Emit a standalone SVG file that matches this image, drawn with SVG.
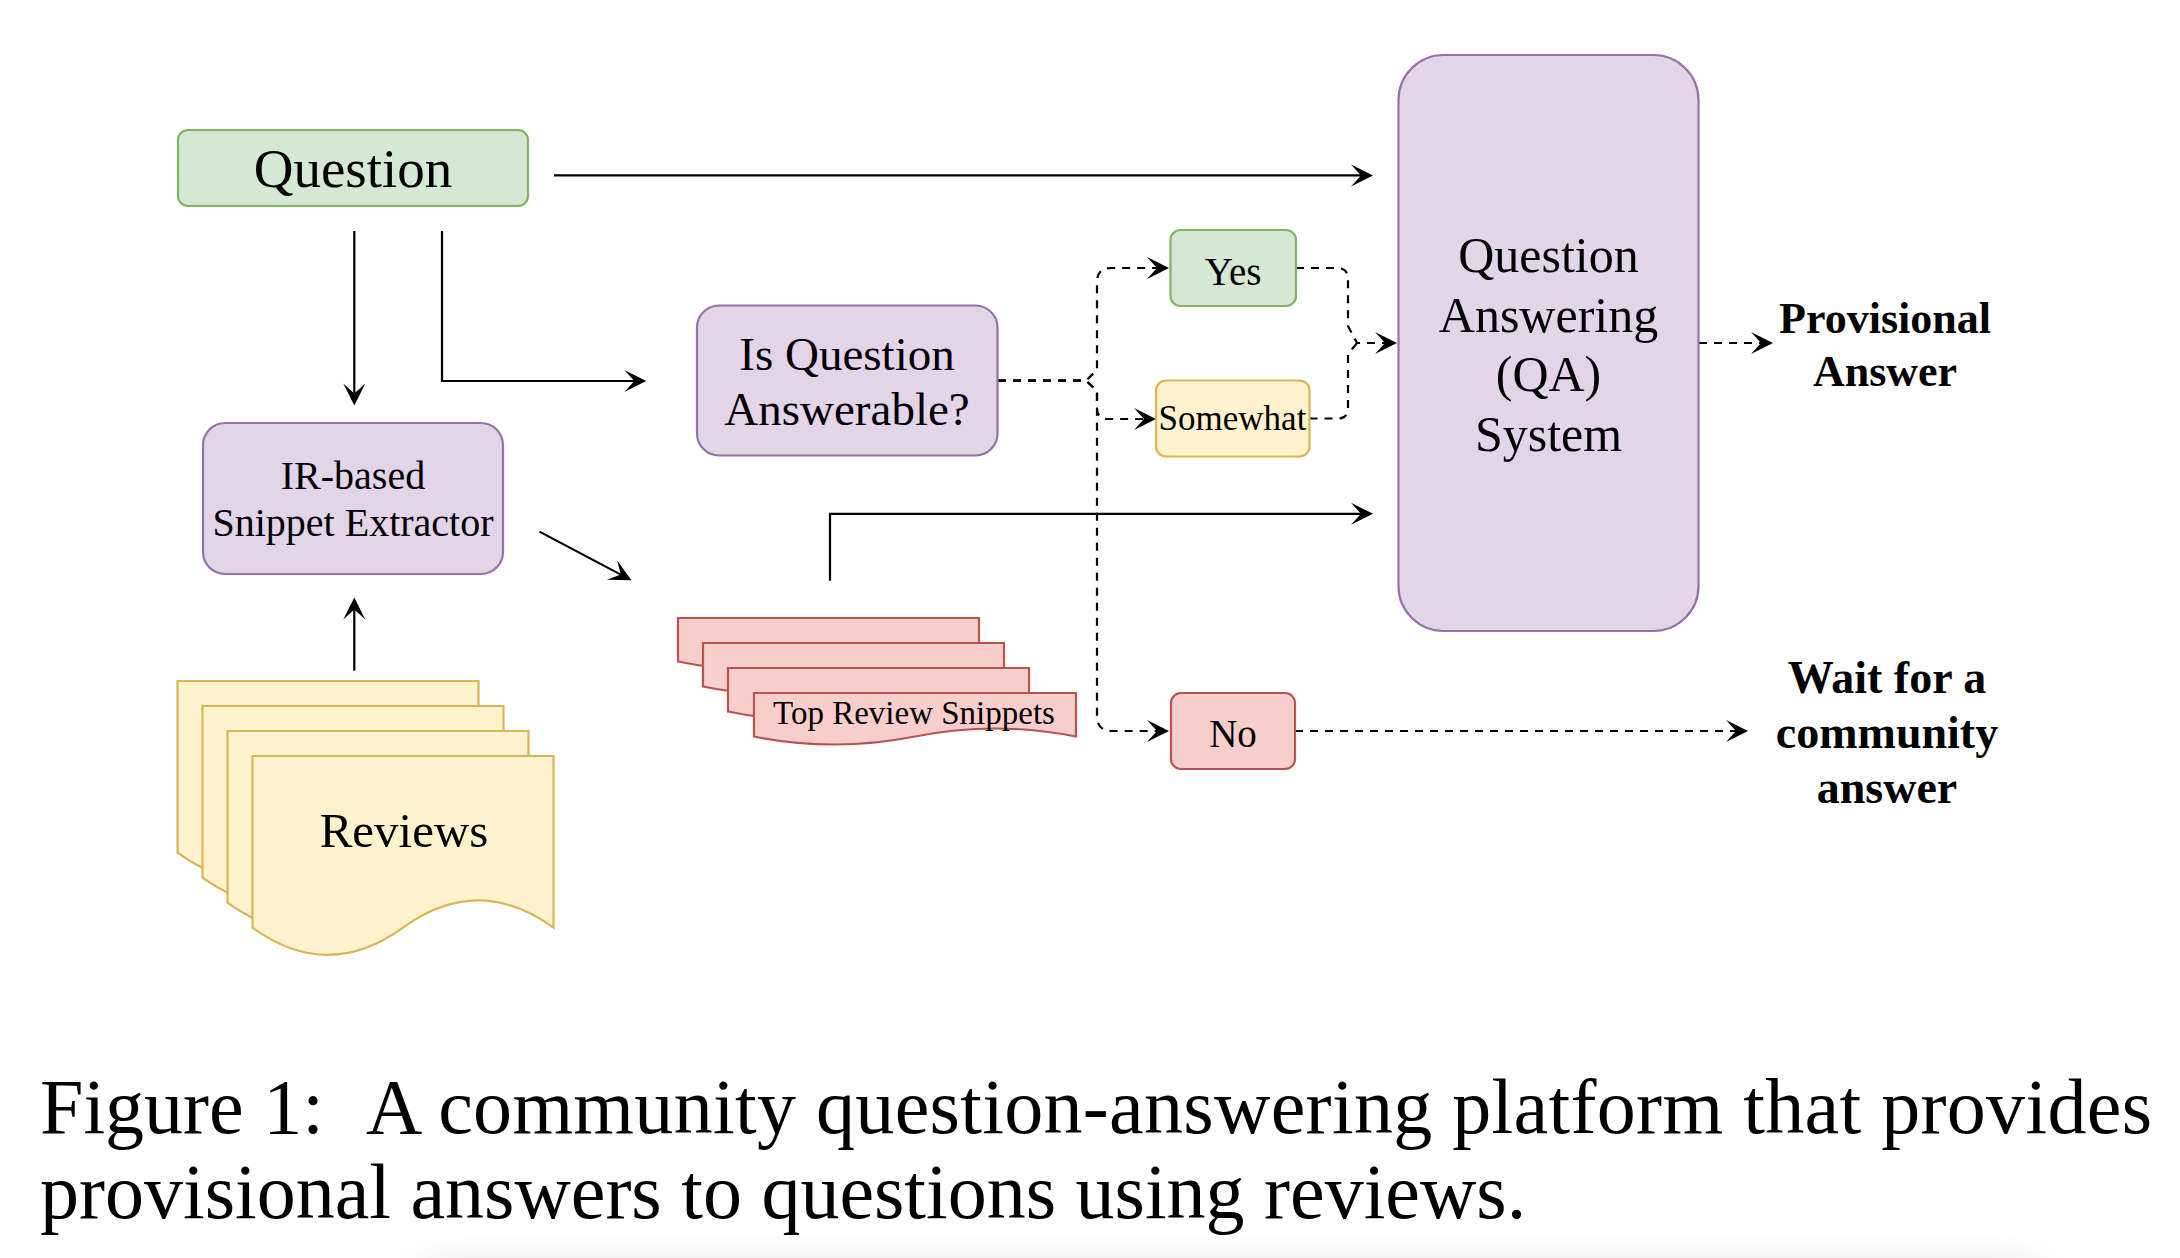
<svg xmlns="http://www.w3.org/2000/svg" width="2180" height="1258" viewBox="0 0 2180 1258">
<style>
.t{font-family:"Liberation Serif","Times New Roman",serif;fill:#000;text-anchor:middle}
.b{font-weight:bold}
.s{text-anchor:start}
.green{fill:#d5e8d4;stroke:#82b366;stroke-width:2.2}
.purple{fill:#e1d5e7;stroke:#9673a6;stroke-width:2.2}
.yellow{fill:#fff2cc;stroke:#d6b656;stroke-width:2.2}
.red{fill:#f8cecc;stroke:#b85450;stroke-width:2.2}
.ln{fill:none;stroke:#000;stroke-width:2.2}
.ds{fill:none;stroke:#000;stroke-width:2.2;stroke-dasharray:8 7}
.arr{marker-end:url(#ah)}
</style>
<defs>
<marker id="ah" viewBox="-12 -12 26 24" refX="0" refY="0" markerWidth="26" markerHeight="24" markerUnits="userSpaceOnUse" orient="auto">
<path d="M12,0 L-10,-11 L0,0 L-10,11 Z" fill="#000"/>
</marker>
<linearGradient id="shade" x1="0" y1="0" x2="0" y2="1">
<stop offset="0" stop-color="#ffffff" stop-opacity="0"/>
<stop offset="1" stop-color="#e6e6e6"/>
</linearGradient>
<filter id="soft" x="-10%" y="-100%" width="120%" height="300%">
<feGaussianBlur stdDeviation="18 4"/>
</filter>
</defs>
<rect width="2180" height="1258" fill="#fff"/>
<rect x="420" y="1226" width="1620" height="50" fill="url(#shade)" filter="url(#soft)"/>

<g id="connectors">
<path class="ln arr" d="M554,175.4 H1361"/>
<path class="ln arr" d="M354.3,231 V393.4"/>
<path class="ln arr" d="M442,231 V381 H634.3"/>
<path class="ln arr" d="M539.5,531.6 L620.8,574.6"/>
<path class="ln arr" d="M354.3,670.7 V609.5"/>
<path class="ln arr" d="M830,580.7 V513.8 H1361"/>
<path class="ds arr" d="M998,380.6 H1086 L1097,370 V282 Q1097,268 1111,268 H1157"/>
<path class="ds arr" d="M998,380.6 H1086 L1097,391 V408 Q1097,419 1108,419 H1144"/>
<path class="ds arr" d="M998,380.6 H1086 L1097,391 V716 Q1097,731 1112,731 H1157"/>
<path class="ds arr" d="M1296,268 H1337 Q1348,268 1348,279 V326 L1357,343 H1385"/>
<path class="ds" d="M1309.5,418.5 H1338 Q1348,418.5 1348,408 V354 L1357,343"/>
<path class="ds arr" d="M1699,343 H1761"/>
<path class="ds arr" d="M1295,731 H1736"/>
</g>

<g id="question">
<rect class="green" x="178" y="130" width="350" height="76" rx="10"/>
<text class="t" x="353" y="187" font-size="55">Question</text>
</g>

<g id="ir-extractor">
<rect class="purple" x="203" y="423" width="300" height="151" rx="22"/>
<text class="t" x="353" y="489" font-size="40">IR-based</text>
<text class="t" x="353" y="536" font-size="40">Snippet Extractor</text>
</g>

<g id="answerable">
<rect class="purple" x="697" y="305.5" width="300.5" height="150" rx="22"/>
<text class="t" x="847" y="369.5" font-size="47">Is Question</text>
<text class="t" x="847" y="425" font-size="47">Answerable?</text>
</g>

<g id="yes">
<rect class="green" x="1170.5" y="230" width="125.5" height="76" rx="10"/>
<text class="t" x="1233" y="285" font-size="39">Yes</text>
</g>

<g id="somewhat">
<rect class="yellow" x="1156" y="380.5" width="153.5" height="76" rx="10"/>
<text class="t" x="1232.5" y="430" font-size="35">Somewhat</text>
</g>

<g id="no">
<rect class="red" x="1171" y="693" width="124" height="76" rx="10"/>
<text class="t" x="1233" y="747" font-size="39">No</text>
</g>

<g id="qa-system">
<rect class="purple" x="1398.5" y="55" width="300" height="576" rx="45"/>
<text class="t" x="1548.5" y="272" font-size="50">Question</text>
<text class="t" x="1548.5" y="331.5" font-size="50">Answering</text>
<text class="t" x="1548.5" y="391.3" font-size="50">(QA)</text>
<text class="t" x="1548.5" y="451.3" font-size="50">System</text>
</g>

<g id="provisional-answer">
<text class="t b" x="1885" y="332.5" font-size="44">Provisional</text>
<text class="t b" x="1885" y="385.5" font-size="44">Answer</text>
</g>

<g id="wait-community">
<text class="t b" x="1887" y="692.5" font-size="46">Wait for a</text>
<text class="t b" x="1887" y="747.5" font-size="46">community</text>
<text class="t b" x="1887" y="802.5" font-size="46">answer</text>
</g>

<g id="reviews">
<path class="yellow" d="M177.5,681 H478.5 V852.7 Q403.25,798.2 328,852.7 T177.5,852.7 Z"/>
<path class="yellow" d="M202.5,706 H503.5 V877.7 Q428.25,823.2 353,877.7 T202.5,877.7 Z"/>
<path class="yellow" d="M227.5,731 H528.5 V902.7 Q453.25,848.2 378,902.7 T227.5,902.7 Z"/>
<path class="yellow" d="M252.5,756 H553.5 V927.7 Q478.25,873.2 403,927.7 T252.5,927.7 Z"/>
<text class="t" x="404" y="847" font-size="49">Reviews</text>
</g>

<g id="top-review-snippets">
<path class="red" d="M678,618 H979 V661.5 Q903.25,645.5 828.5,661.5 T678,661.5 Z"/>
<path class="red" d="M703,643 H1004 V686.5 Q928.25,670.5 853.5,686.5 T703,686.5 Z"/>
<path class="red" d="M728,668 H1029 V711.5 Q953.25,695.5 878.5,711.5 T728,711.5 Z"/>
<path class="red" d="M754,693 H1076 V736.5 Q995.5,720.5 915,736.5 T754,736.5 Z"/>
<text class="t" x="914" y="724" font-size="33">Top Review Snippets</text>
</g>

<g id="caption">
<text class="t s" x="40" y="1133" font-size="78">Figure 1:</text>
<text class="t s" x="366" y="1133" font-size="78" textLength="1786" lengthAdjust="spacing">A community question-answering platform that provides</text>
<text class="t s" x="40" y="1218" font-size="78">provisional answers to questions using reviews.</text>
</g>
</svg>
